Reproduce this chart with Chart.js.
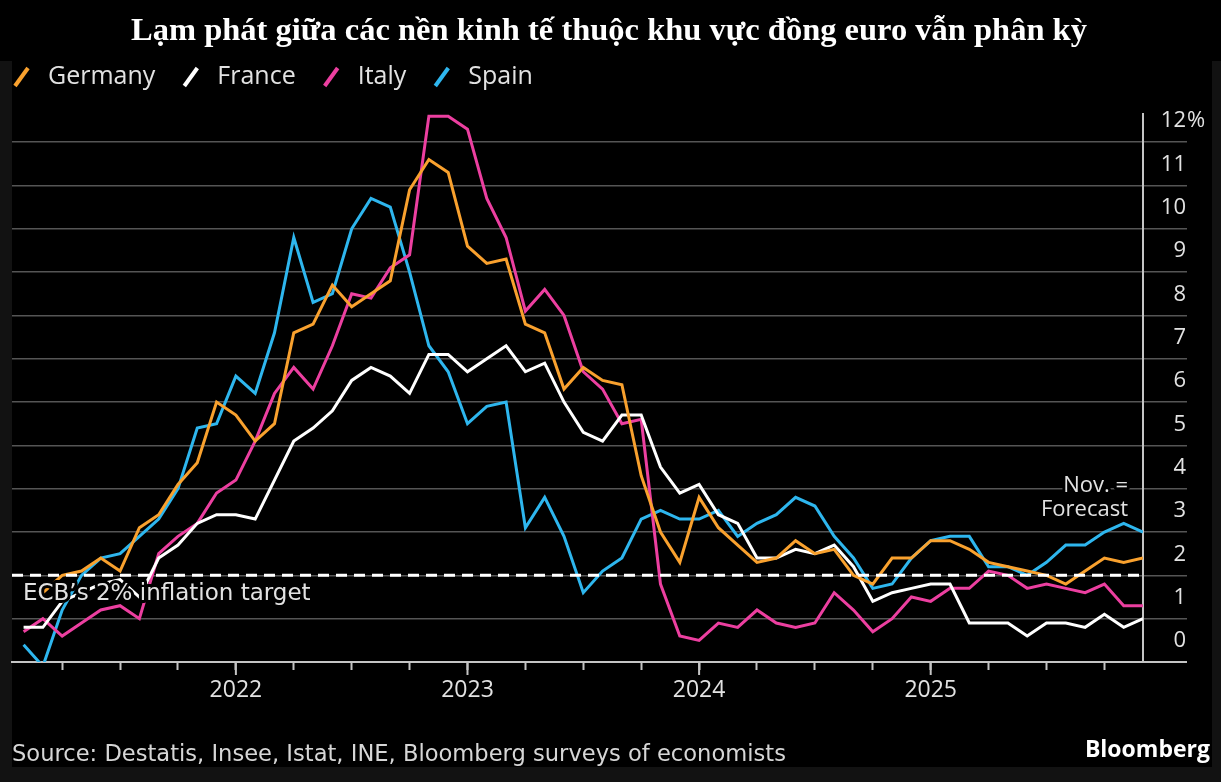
<!DOCTYPE html>
<html>
<head>
<meta charset="utf-8">
<script src="https://cdn.jsdelivr.net/npm/chart.js@4.4.1/dist/chart.umd.min.js"></script>
<style>
  html, body { margin: 0; padding: 0; background: #121212; overflow: hidden; }
  #wrap { width: 1221px; height: 782px; }
</style>
</head>
<body>
<div id="wrap"><canvas id="chart" width="1221" height="782"></canvas></div>
<script>
// Dữ liệu: lạm phát HICP theo tháng, 01/2021 - 11/2025 (tháng 11/2025 = dự báo)
const MONTHS = [
  '2021-01', '2021-02', '2021-03', '2021-04', '2021-05', '2021-06', '2021-07', '2021-08', '2021-09', '2021-10', '2021-11', '2021-12',
  '2022-01', '2022-02', '2022-03', '2022-04', '2022-05', '2022-06', '2022-07', '2022-08', '2022-09', '2022-10', '2022-11', '2022-12',
  '2023-01', '2023-02', '2023-03', '2023-04', '2023-05', '2023-06', '2023-07', '2023-08', '2023-09', '2023-10', '2023-11', '2023-12',
  '2024-01', '2024-02', '2024-03', '2024-04', '2024-05', '2024-06', '2024-07', '2024-08', '2024-09', '2024-10', '2024-11', '2024-12',
  '2025-01', '2025-02', '2025-03', '2025-04', '2025-05', '2025-06', '2025-07', '2025-08', '2025-09', '2025-10', '2025-11'
];

const GERMANY = [
  1.6, 1.6, 2.0, 2.1, 2.4, 2.1, 3.1, 3.4, 4.1, 4.6, 6.0, 5.7,
  5.1, 5.5, 7.6, 7.8, 8.7, 8.2, 8.5, 8.8, 10.9, 11.6, 11.3, 9.6,
  9.2, 9.3, 7.8, 7.6, 6.3, 6.8, 6.5, 6.4, 4.3, 3.0, 2.3, 3.8,
  3.1, 2.7, 2.3, 2.4, 2.8, 2.5, 2.6, 2.0, 1.8, 2.4, 2.4, 2.8,
  2.8, 2.6, 2.3, 2.2, 2.1, 2.0, 1.8, 2.1, 2.4, 2.3, 2.4
];
const FRANCE = [
  0.8, 0.8, 1.4, 1.6, 1.8, 1.9, 1.5, 2.4, 2.7, 3.2, 3.4, 3.4,
  3.3, 4.2, 5.1, 5.4, 5.8, 6.5, 6.8, 6.6, 6.2, 7.1, 7.1, 6.7,
  7.0, 7.3, 6.7, 6.9, 6.0, 5.3, 5.1, 5.7, 5.7, 4.5, 3.9, 4.1,
  3.4, 3.2, 2.4, 2.4, 2.6, 2.5, 2.7, 2.2, 1.4, 1.6, 1.7, 1.8,
  1.8, 0.9, 0.9, 0.9, 0.6, 0.9, 0.9, 0.8, 1.1, 0.8, 1.0
];
const ITALY = [
  0.7, 1.0, 0.6, 0.9, 1.2, 1.3, 1.0, 2.5, 2.9, 3.2, 3.9, 4.2,
  5.1, 6.2, 6.8, 6.3, 7.3, 8.5, 8.4, 9.1, 9.4, 12.6, 12.6, 12.3,
  10.7, 9.8, 8.1, 8.6, 8.0, 6.7, 6.3, 5.5, 5.6, 1.8, 0.6, 0.5,
  0.9, 0.8, 1.2, 0.9, 0.8, 0.9, 1.6, 1.2, 0.7, 1.0, 1.5, 1.4,
  1.7, 1.7, 2.1, 2.0, 1.7, 1.8, 1.7, 1.6, 1.8, 1.3, 1.3
];
const SPAIN = [
  0.4, -0.1, 1.2, 2.0, 2.4, 2.5, 2.9, 3.3, 4.0, 5.4, 5.5, 6.6,
  6.2, 7.6, 9.8, 8.3, 8.5, 10.0, 10.7, 10.5, 9.0, 7.3, 6.7, 5.5,
  5.9, 6.0, 3.1, 3.8, 2.9, 1.6, 2.1, 2.4, 3.3, 3.5, 3.3, 3.3,
  3.5, 2.9, 3.2, 3.4, 3.8, 3.6, 2.9, 2.4, 1.7, 1.8, 2.4, 2.8,
  2.9, 2.9, 2.2, 2.2, 2.0, 2.3, 2.7, 2.7, 3.0, 3.2, 3.0
];
const ECB_TARGET = 2;

// Trục x: số tháng kể từ 01/2021 (điểm dữ liệu nằm ở cuối tháng)
const QUARTER_TICKS = [3, 6, 9, 12, 15, 18, 21, 24, 27, 30, 33, 36, 39, 42, 45, 48, 51, 54, 57];
const YEAR_TICKS = [12, 24, 36, 48];
const YEAR_LABELS = ['2022', '2023', '2024', '2025'];
const X_MIN = 0.4;
const X_MAX = 59;
const Y_MAX = 12.65;

// Màu sắc và font
const C_GERMANY = '#f9a12e';
const C_FRANCE = '#ffffff';
const C_ITALY = '#ec3fa0';
const C_SPAIN = '#2eb6ee';
const GRID_COLOR = '#555555';
const AXIS_COLOR = '#c4c4c4';
const TEXT_COLOR = '#e2e2e2';
const SANS = '"Open Sans", "Noto Sans", sans-serif';
const WIDE = '"DejaVu Sans", Verdana, sans-serif';

const toPoints = values => values.map((v, i) => ({ x: i + 1, y: v }));

const series = (label, values, color) => ({
  label,
  data: toPoints(values),
  borderColor: color,
  backgroundColor: color,
  borderWidth: 3,
  pointRadius: 0,
  tension: 0,
  fill: false
});

// Chữ có viền đen (halo) để nổi trên các đường
function haloText(ctx, text, x, y, align) {
  ctx.textAlign = align;
  ctx.textBaseline = 'middle';
  ctx.lineJoin = 'round';
  ctx.lineWidth = 6;
  ctx.strokeStyle = '#000';
  ctx.strokeText(text, x, y);
  ctx.fillStyle = TEXT_COLOR;
  ctx.fillText(text, x, y);
}

const decorPlugin = {
  id: 'decor',
  beforeDraw(chart) {
    const ctx = chart.ctx;
    ctx.save();
    ctx.fillStyle = '#121212';
    ctx.fillRect(0, 0, chart.width, chart.height);
    ctx.fillStyle = '#000';
    ctx.fillRect(0, 0, chart.width, 61);
    ctx.fillRect(12, 61, 1200, 706);
    ctx.restore();
  },
  afterDatasetsDraw(chart) {
    const ctx = chart.ctx;
    const { x, y } = chart.scales;
    ctx.save();
    ctx.font = '23px ' + WIDE;
    haloText(ctx, 'ECB\u2019s 2% inflation target', 23, y.getPixelForValue(ECB_TARGET) + 19, 'left');
    ctx.font = '22px ' + SANS;
    const right = x.getPixelForValue(X_MAX) - 15;
    haloText(ctx, 'Nov. =', right, y.getPixelForValue(4) - 3, 'right');
    haloText(ctx, 'Forecast', right, y.getPixelForValue(4) + 21, 'right');
    ctx.restore();
  },
  afterDraw(chart) {
    const ctx = chart.ctx;
    const { x, y } = chart.scales;
    ctx.save();

    // Tiêu đề
    ctx.fillStyle = '#ffffff';
    ctx.font = 'bold 32.5px "Liberation Serif", "Times New Roman", serif';
    ctx.textAlign = 'center';
    ctx.textBaseline = 'alphabetic';
    ctx.fillText('Lạm phát giữa các nền kinh tế thuộc khu vực đồng euro vẫn phân kỳ', 609, 40);

    // Chú giải với dấu gạch chéo
    ctx.font = '25px ' + SANS;
    ctx.textAlign = 'left';
    ctx.textBaseline = 'middle';
    let cx = 14;
    chart.data.datasets.filter(d => d.label).forEach(d => {
      ctx.strokeStyle = d.borderColor;
      ctx.lineWidth = 4;
      ctx.lineCap = 'butt';
      ctx.beginPath();
      ctx.moveTo(cx + 1, 86);
      ctx.lineTo(cx + 14, 68);
      ctx.stroke();
      ctx.fillStyle = TEXT_COLOR;
      ctx.fillText(d.label, cx + 34, 77);
      cx += 34 + ctx.measureText(d.label).width + 28;
    });

    // Vạch năm dài hơn
    ctx.strokeStyle = AXIS_COLOR;
    ctx.lineWidth = 2;
    YEAR_TICKS.forEach(v => {
      const px = x.getPixelForValue(v);
      ctx.beginPath();
      ctx.moveTo(px, x.top);
      ctx.lineTo(px, x.top + 13);
      ctx.stroke();
    });

    // Dấu % sau nhãn trên cùng
    ctx.font = '22px ' + SANS;
    ctx.fillStyle = TEXT_COLOR;
    ctx.textAlign = 'left';
    ctx.textBaseline = 'middle';
    ctx.fillText('%', y.right + 1, y.getPixelForValue(12) - 21);

    // Nguồn
    ctx.font = '22.6px ' + WIDE;
    ctx.fillStyle = '#d6d6d6';
    ctx.textBaseline = 'alphabetic';
    ctx.fillText('Source: Destatis, Insee, Istat, INE, Bloomberg surveys of economists', 12, 761);
    ctx.font = 'bold 23px ' + SANS;
    ctx.fillStyle = '#ffffff';
    ctx.textAlign = 'right';
    ctx.fillText('Bloomberg', 1210, 757);

    ctx.restore();
  }
};

new Chart(document.getElementById('chart'), {
  type: 'line',
  data: {
    labels: MONTHS,
    datasets: [
      {
        label: '',
        data: [{ x: X_MIN, y: ECB_TARGET }, { x: X_MAX, y: ECB_TARGET }],
        borderColor: '#ffffff',
        borderWidth: 3,
        borderDash: [11, 7],
        pointRadius: 0,
        fill: false
      },
      series('Germany', GERMANY, C_GERMANY),
      series('France', FRANCE, C_FRANCE),
      series('Italy', ITALY, C_ITALY),
      series('Spain', SPAIN, C_SPAIN)
    ]
  },
  options: {
    responsive: false,
    animation: false,
    devicePixelRatio: 1,
    layout: { padding: { top: 114, left: 12, right: 35, bottom: 70 } },
    plugins: {
      legend: { display: false },
      title: { display: false },
      tooltip: { enabled: false }
    },
    scales: {
      x: {
        type: 'linear',
        min: X_MIN,
        max: X_MAX,
        afterBuildTicks: scale => { scale.ticks = QUARTER_TICKS.map(v => ({ value: v })); },
        afterFit: scale => { scale.height = 50; },
        border: { display: true, color: AXIS_COLOR, width: 2 },
        grid: { drawOnChartArea: false, drawTicks: true, tickLength: 8, tickColor: AXIS_COLOR, tickWidth: 2 },
        ticks: {
          autoSkip: false,
          maxRotation: 0,
          padding: 7,
          color: TEXT_COLOR,
          font: { family: SANS, size: 23 },
          callback: value => {
            const k = YEAR_TICKS.indexOf(value);
            return k >= 0 ? YEAR_LABELS[k] : '';
          }
        }
      },
      y: {
        position: 'right',
        min: 0,
        max: Y_MAX,
        afterFit: scale => { scale.width = 43; },
        border: { display: true, color: AXIS_COLOR, width: 2 },
        grid: {
          color: c => (c.tick && c.tick.value === 0 ? AXIS_COLOR : GRID_COLOR),
          tickColor: c => (c.tick && c.tick.value === 0 ? AXIS_COLOR : GRID_COLOR),
          lineWidth: c => (c.tick && c.tick.value === 0 ? 2 : 1.5),
          drawTicks: true,
          tickLength: 44
        },
        ticks: {
          stepSize: 1,
          includeBounds: false,
          crossAlign: 'far',
          labelOffset: -21,
          color: TEXT_COLOR,
          font: { family: SANS, size: 22 }
        }
      }
    }
  },
  plugins: [decorPlugin]
});
</script>
</body>
</html>
